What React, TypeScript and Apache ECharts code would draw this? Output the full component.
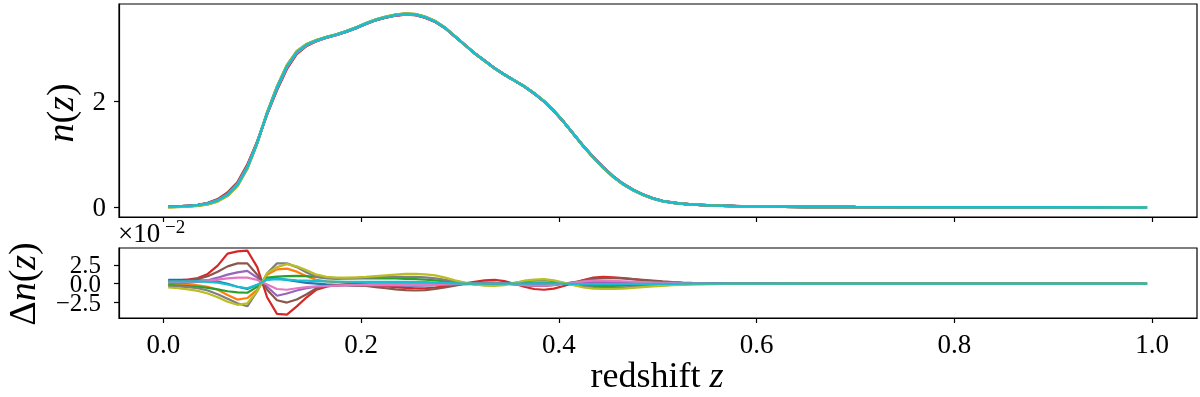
import React, { useEffect, useRef } from "react";
import * as echarts from "echarts";

// redshift grid (bin centres)
const zGrid = [
  0.005, 0.015, 0.025, 0.035, 0.045, 0.055, 0.065, 0.075, 0.085, 0.095,
  0.105, 0.115, 0.125, 0.135, 0.145, 0.155, 0.165, 0.175, 0.185, 0.195,
  0.205, 0.215, 0.225, 0.235, 0.245, 0.255, 0.265, 0.275, 0.285, 0.295,
  0.305, 0.315, 0.325, 0.335, 0.345, 0.355, 0.365, 0.375, 0.385, 0.395,
  0.405, 0.415, 0.425, 0.435, 0.445, 0.455, 0.465, 0.475, 0.485, 0.495,
  0.505, 0.515, 0.525, 0.535, 0.545, 0.555, 0.565, 0.575, 0.585, 0.595,
  0.65, 0.7, 0.8, 0.9, 0.995,
];

// mean n(z)
const nMean = [
  0.01, 0.015, 0.025, 0.04, 0.07, 0.13, 0.24, 0.43, 0.76, 1.22,
  1.77, 2.25, 2.65, 2.92, 3.06, 3.14, 3.2, 3.25, 3.31, 3.38,
  3.46, 3.53, 3.58, 3.62, 3.64, 3.63, 3.58, 3.5, 3.38, 3.22,
  3.06, 2.9, 2.76, 2.62, 2.5, 2.39, 2.28, 2.15, 2.0, 1.82,
  1.61, 1.38, 1.15, 0.94, 0.75, 0.58, 0.44, 0.33, 0.24, 0.17,
  0.12, 0.09, 0.07, 0.055, 0.045, 0.035, 0.03, 0.025, 0.02, 0.017,
  0.01, 0.006, 0.003, 0.002, 0.001,
];

// Δn(z) in units of 1e-2
const dBlue = [
  0.5, 0.5, 0.5, 0.45, 0.4, 0.3, 0.0, -0.4, -0.7, -0.15,
  0.55, 0.7, 0.5, 0.3, 0.1, 0.0, -0.1, -0.15, -0.2, -0.22,
  -0.25, -0.25, -0.25, -0.25, -0.25, -0.25, -0.22, -0.2, -0.15, -0.1,
  -0.05, 0.0, 0.05, 0.05, 0.0, -0.05, -0.1, -0.12, -0.12, -0.08,
  0.0, 0.05, 0.1, 0.12, 0.12, 0.1, 0.08, 0.06, 0.05, 0.04,
  0.03, 0.02, 0.02, 0.01, 0.01, 0.01, 0.0, 0.0, 0.0, 0.0,
  0, 0, 0, 0, 0,
];
const dOrange = [
  0.0, -0.05, -0.1, -0.2, -0.4, -0.8, -1.5, -2.1, -1.9, -0.8,
  1.2, 1.9, 2.0, 1.6, 1.0, 0.5, 0.3, 0.2, 0.15, 0.1,
  0.1, 0.1, 0.1, 0.1, 0.1, 0.1, 0.1, 0.08, 0.05, 0.0,
  -0.05, -0.08, -0.1, -0.08, -0.05, 0.0, 0.05, 0.08, 0.1, 0.08,
  0.0, -0.05, -0.1, -0.15, -0.15, -0.15, -0.12, -0.1, -0.08, -0.06,
  -0.05, -0.04, -0.03, -0.02, -0.02, -0.01, -0.01, 0.0, 0.0, 0.0,
  0, 0, 0, 0, 0,
];
const dGreen = [
  -0.2, -0.25, -0.3, -0.4, -0.55, -0.75, -1.0, -1.15, -1.2, -0.4,
  0.8, 0.95, 1.0, 1.05, 1.0, 0.9, 0.8, 0.75, 0.7, 0.7,
  0.7, 0.7, 0.7, 0.7, 0.65, 0.6, 0.55, 0.45, 0.3, 0.15,
  0.05, 0.0, -0.05, -0.05, 0.0, 0.05, 0.1, 0.15, 0.15, 0.1,
  0.0, -0.1, -0.2, -0.28, -0.3, -0.3, -0.27, -0.22, -0.18, -0.14,
  -0.1, -0.08, -0.06, -0.04, -0.03, -0.02, -0.01, -0.01, 0.0, 0.0,
  0, 0, 0, 0, 0,
];
const dRed = [
  0.4, 0.45, 0.55, 0.75, 1.3, 2.4, 4.0, 4.3, 4.4, 2.2,
  -1.8, -4.0, -4.1, -3.0, -1.8, -0.8, -0.4, -0.2, -0.1, -0.1,
  -0.15, -0.25, -0.35, -0.45, -0.55, -0.6, -0.6, -0.5, -0.35, -0.15,
  0.05, 0.25, 0.45, 0.5, 0.35, 0.0, -0.4, -0.7, -0.8, -0.65,
  -0.3, 0.1, 0.5, 0.8, 0.9, 0.85, 0.75, 0.6, 0.45, 0.35,
  0.25, 0.18, 0.12, 0.08, 0.05, 0.04, 0.03, 0.02, 0.01, 0.01,
  0, 0, 0, 0, 0,
];
const dPurple = [
  0.1, 0.1, 0.15, 0.25, 0.45, 0.8, 1.2, 1.5, 1.7, 0.8,
  -0.4, -1.6, -1.3, -0.9, -0.6, -0.4, -0.3, -0.25, -0.2, -0.2,
  -0.2, -0.2, -0.2, -0.2, -0.2, -0.2, -0.18, -0.15, -0.1, -0.05,
  0.0, 0.05, 0.1, 0.1, 0.05, 0.0, -0.05, -0.1, -0.1, -0.05,
  0.0, 0.08, 0.15, 0.2, 0.22, 0.2, 0.18, 0.15, 0.12, 0.1,
  0.08, 0.06, 0.04, 0.03, 0.02, 0.02, 0.01, 0.01, 0.0, 0.0,
  0, 0, 0, 0, 0,
];
const dBrown = [
  0.3, 0.35, 0.45, 0.65, 1.0, 1.6, 2.3, 2.7, 2.7, 1.2,
  -0.8, -2.2, -2.5, -2.1, -1.4, -0.6, -0.3, -0.2, -0.2, -0.25,
  -0.3, -0.45, -0.6, -0.75, -0.85, -0.9, -0.85, -0.7, -0.5, -0.25,
  0.0, 0.1, 0.15, 0.1, 0.0, -0.1, -0.2, -0.3, -0.3, -0.2,
  0.0, 0.2, 0.45, 0.65, 0.75, 0.75, 0.7, 0.6, 0.5, 0.4,
  0.3, 0.22, 0.15, 0.1, 0.07, 0.05, 0.03, 0.02, 0.01, 0.01,
  0, 0, 0, 0, 0,
];
const dPink = [
  0.2, 0.2, 0.25, 0.3, 0.4, 0.55, 0.7, 0.8, 0.8, 0.5,
  -0.1, -0.7, -0.8, -0.6, -0.45, -0.35, -0.3, -0.25, -0.2, -0.2,
  -0.2, -0.2, -0.2, -0.2, -0.2, -0.2, -0.2, -0.15, -0.1, -0.05,
  0.0, 0.0, 0.0, 0.0, 0.0, -0.1, -0.2, -0.25, -0.25, -0.15,
  0.0, 0.15, 0.3, 0.4, 0.4, 0.38, 0.33, 0.27, 0.22, 0.17,
  0.13, 0.1, 0.07, 0.05, 0.04, 0.03, 0.02, 0.01, 0.01, 0.0,
  0, 0, 0, 0, 0,
];
const dGray = [
  -0.3, -0.35, -0.45, -0.6, -0.9, -1.4, -2.0, -2.6, -3.0, -1.0,
  1.4, 2.7, 2.7, 2.2, 1.5, 0.9, 0.7, 0.65, 0.7, 0.75,
  0.8, 0.85, 0.9, 0.9, 0.9, 0.9, 0.85, 0.7, 0.5, 0.3,
  0.1, -0.1, -0.2, -0.2, -0.1, 0.1, 0.3, 0.45, 0.5, 0.35,
  0.1, -0.15, -0.35, -0.5, -0.55, -0.55, -0.5, -0.42, -0.35, -0.28,
  -0.2, -0.15, -0.1, -0.07, -0.05, -0.04, -0.03, -0.02, -0.01, -0.01,
  0, 0, 0, 0, 0,
];
const dOlive = [
  -0.5, -0.6, -0.75, -0.95, -1.3, -1.8, -2.4, -2.8, -2.6, -1.0,
  1.4, 2.2, 2.6, 2.3, 1.8, 1.2, 0.9, 0.8, 0.8, 0.85,
  0.9, 1.0, 1.1, 1.2, 1.3, 1.3, 1.25, 1.1, 0.8, 0.45,
  0.15, -0.1, -0.25, -0.3, -0.2, 0.1, 0.4, 0.55, 0.6, 0.45,
  0.15, -0.2, -0.5, -0.65, -0.7, -0.7, -0.65, -0.55, -0.45, -0.35,
  -0.28, -0.2, -0.15, -0.1, -0.07, -0.05, -0.04, -0.03, -0.02, -0.01,
  0, 0, 0, 0, 0,
];
const dCyan = [
  0.3, 0.3, 0.3, 0.3, 0.25, 0.15, -0.1, -0.4, -0.6, -0.15,
  0.55, 0.6, 0.55, 0.45, 0.4, 0.35, 0.3, 0.28, 0.26, 0.25,
  0.25, 0.25, 0.25, 0.25, 0.25, 0.22, 0.2, 0.15, 0.1, 0.05,
  0.0, 0.0, 0.0, 0.0, 0.0, 0.0, 0.02, 0.05, 0.05, 0.03,
  0.0, -0.02, -0.05, -0.05, -0.05, -0.05, -0.04, -0.03, -0.02, -0.02,
  -0.01, -0.01, 0.0, 0.0, 0.0, 0.0, 0.0, 0.0, 0.0, 0.0,
  0, 0, 0, 0, 0,
];

const seriesNames = ["blue", "orange", "green", "red", "purple", "brown", "pink", "gray", "olive", "cyan"];
const colors = ["#1f77b4", "#ff7f0e", "#2ca02c", "#d62728", "#9467bd", "#8c564b", "#e377c2", "#7f7f7f", "#bcbd22", "#17becf"];
const xTicks = [0, 0.2, 0.4, 0.6, 0.8, 1.0];
const nTicks = [0, 2];
const dTicksOuter = [-2.5, 2.5];
const dTicksMiddle = [0];

const FONT = '"Liberation Serif", "DejaVu Serif", serif';

export default function App() {
  const ref = useRef<HTMLDivElement>(null);
  useEffect(() => {
    if (!ref.current) return;
    const chart = echarts.init(ref.current, null, { renderer: "svg" });
    const deltas = [dBlue, dOrange, dGreen, dRed, dPurple, dBrown, dPink, dGray, dOlive, dCyan];
    const series: any[] = [];
    deltas.forEach((d, s) => {
      series.push({
        name: seriesNames[s] + "-n",
        type: "line",
        xAxisIndex: 0,
        yAxisIndex: 0,
        data: zGrid.map((z, i) => [z, nMean[i] + d[i] / 100]),
        symbol: "none",
        silent: true,
        lineStyle: { color: colors[s], width: 2.5 },
        itemStyle: { color: colors[s] },
      });
    });
    deltas.forEach((d, s) => {
      series.push({
        name: seriesNames[s] + "-d",
        type: "line",
        xAxisIndex: 1,
        yAxisIndex: 1,
        data: zGrid.map((z, i) => [z, d[i]]),
        symbol: "none",
        silent: true,
        lineStyle: { color: colors[s], width: 2.2 },
        itemStyle: { color: colors[s] },
      });
    });

    const axisCommon = {
      type: "value",
      axisLine: { show: true, onZero: false, lineStyle: { color: "#000", width: 1.2 } },
      splitLine: { show: false },
    };
    const tickStyle = { color: "#000", width: 1.2 };
    const labelStyle = { color: "#000", fontFamily: FONT, fontSize: 27, hideOverlap: false, showMinLabel: true, showMaxLabel: true };
    const dLabelStyle = { ...labelStyle, fontSize: 25 };
    const dFormat = (v: number) => (v < 0 ? "\u2212" + Math.abs(v).toFixed(1) : v.toFixed(1));

    chart.setOption({
      animation: false,
      grid: [
        { left: 119, top: 4, width: 1078, height: 213, show: true, borderColor: "#000", borderWidth: 1.2, backgroundColor: "transparent" },
        { left: 119, top: 248, width: 1078, height: 70, show: true, borderColor: "#000", borderWidth: 1.2, backgroundColor: "transparent" },
      ],
      xAxis: [
        {
          ...axisCommon,
          gridIndex: 0,
          min: -0.0448,
          max: 1.0455,
          axisTick: { show: true, customValues: xTicks, length: 5, lineStyle: tickStyle },
          axisLabel: { show: false },
        },
        {
          ...axisCommon,
          gridIndex: 1,
          min: -0.0448,
          max: 1.0455,
          axisTick: { show: true, customValues: xTicks, length: 5, lineStyle: tickStyle },
          axisLabel: { ...labelStyle, customValues: xTicks, margin: 12, formatter: (v: number) => v.toFixed(1) },
        },
      ],
      yAxis: [
        {
          ...axisCommon,
          gridIndex: 0,
          min: -0.18,
          max: 3.83,
          axisTick: { show: true, customValues: nTicks, length: 5, lineStyle: tickStyle },
          axisLabel: { ...labelStyle, customValues: nTicks, margin: 13, formatter: (v: number) => String(v) },
        },
        {
          ...axisCommon,
          gridIndex: 1,
          position: "left",
          min: -4.55,
          max: 4.74,
          axisTick: { show: true, customValues: [-2.5, 0, 2.5], length: 5, lineStyle: tickStyle },
          axisLabel: { ...dLabelStyle, customValues: dTicksOuter, margin: 18, formatter: dFormat },
        },
        {
          ...axisCommon,
          gridIndex: 1,
          position: "left",
          offset: 0,
          min: -4.55,
          max: 4.74,
          axisLine: { show: false },
          axisTick: { show: false },
          axisLabel: { ...dLabelStyle, customValues: dTicksMiddle, margin: 18, formatter: dFormat },
        },
      ],
      series,
      graphic: [
        {
          type: "text",
          x: 60,
          y: 113,
          rotation: Math.PI / 2,
          style: {
            text: "{i|n}{r|(}{i|z}{r|)}",
            align: "center",
            verticalAlign: "middle",
            fill: "#000",
            rich: {
              i: { fontFamily: FONT, fontSize: 38, fontStyle: "italic", fill: "#000" },
              r: { fontFamily: FONT, fontSize: 38, fill: "#000" },
            },
          },
        },
        {
          type: "text",
          x: 22,
          y: 284,
          rotation: Math.PI / 2,
          style: {
            text: "{r|\u0394}{i|n}{r|(}{i|z}{r|)}",
            align: "center",
            verticalAlign: "middle",
            fill: "#000",
            rich: {
              i: { fontFamily: FONT, fontSize: 38, fontStyle: "italic", fill: "#000" },
              r: { fontFamily: FONT, fontSize: 38, fill: "#000" },
            },
          },
        },
        {
          type: "text",
          x: 118,
          y: 246,
          style: { text: "\u00d710", font: `27px ${FONT}`, fill: "#000", align: "left", verticalAlign: "bottom" },
        },
        {
          type: "text",
          x: 165,
          y: 236,
          style: { text: "\u22122", font: `19px ${FONT}`, fill: "#000", align: "left", verticalAlign: "bottom" },
        },
        {
          type: "text",
          x: 657,
          y: 375,
          style: {
            text: "{r|redshift }{i|z}",
            align: "center",
            verticalAlign: "middle",
            fill: "#000",
            rich: {
              i: { fontFamily: FONT, fontSize: 36, fontStyle: "italic", fill: "#000" },
              r: { fontFamily: FONT, fontSize: 36, fill: "#000" },
            },
          },
        },
      ],
    });
    return () => chart.dispose();
  }, []);
  return <div ref={ref} style={{ position: "fixed", left: 0, top: 0, width: 1200, height: 397 }} />;
}
